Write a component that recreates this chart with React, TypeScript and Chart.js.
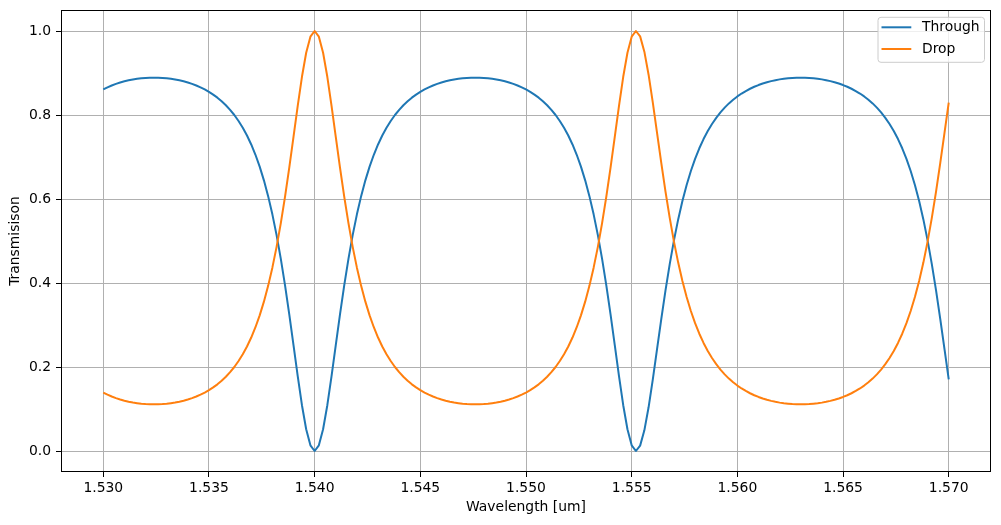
import React, { useEffect, useRef } from "react";
import { Chart, registerables } from "chart.js";

Chart.register(...registerables);

const wavelength = [
  1.5300, 1.5302, 1.5304, 1.5306, 1.5308, 1.5310, 1.5312, 1.5314, 1.5316, 1.5318,
  1.5320, 1.5322, 1.5324, 1.5326, 1.5328, 1.5330, 1.5332, 1.5334, 1.5336, 1.5338,
  1.5340, 1.5342, 1.5344, 1.5346, 1.5348, 1.5350, 1.5352, 1.5354, 1.5356, 1.5358,
  1.5360, 1.5362, 1.5364, 1.5366, 1.5368, 1.5370, 1.5372, 1.5374, 1.5376, 1.5378,
  1.5380, 1.5382, 1.5384, 1.5386, 1.5388, 1.5390, 1.5392, 1.5394, 1.5396, 1.5398,
  1.5400, 1.5402, 1.5404, 1.5406, 1.5408, 1.5410, 1.5412, 1.5414, 1.5416, 1.5418,
  1.5420, 1.5422, 1.5424, 1.5426, 1.5428, 1.5430, 1.5432, 1.5434, 1.5436, 1.5438,
  1.5440, 1.5442, 1.5444, 1.5446, 1.5448, 1.5450, 1.5452, 1.5454, 1.5456, 1.5458,
  1.5460, 1.5462, 1.5464, 1.5466, 1.5468, 1.5470, 1.5472, 1.5474, 1.5476, 1.5478,
  1.5480, 1.5482, 1.5484, 1.5486, 1.5488, 1.5490, 1.5492, 1.5494, 1.5496, 1.5498,
  1.5500, 1.5502, 1.5504, 1.5506, 1.5508, 1.5510, 1.5512, 1.5514, 1.5516, 1.5518,
  1.5520, 1.5522, 1.5524, 1.5526, 1.5528, 1.5530, 1.5532, 1.5534, 1.5536, 1.5538,
  1.5540, 1.5542, 1.5544, 1.5546, 1.5548, 1.5550, 1.5552, 1.5554, 1.5556, 1.5558,
  1.5560, 1.5562, 1.5564, 1.5566, 1.5568, 1.5570, 1.5572, 1.5574, 1.5576, 1.5578,
  1.5580, 1.5582, 1.5584, 1.5586, 1.5588, 1.5590, 1.5592, 1.5594, 1.5596, 1.5598,
  1.5600, 1.5602, 1.5604, 1.5606, 1.5608, 1.5610, 1.5612, 1.5614, 1.5616, 1.5618,
  1.5620, 1.5622, 1.5624, 1.5626, 1.5628, 1.5630, 1.5632, 1.5634, 1.5636, 1.5638,
  1.5640, 1.5642, 1.5644, 1.5646, 1.5648, 1.5650, 1.5652, 1.5654, 1.5656, 1.5658,
  1.5660, 1.5662, 1.5664, 1.5666, 1.5668, 1.5670, 1.5672, 1.5674, 1.5676, 1.5678,
  1.5680, 1.5682, 1.5684, 1.5686, 1.5688, 1.5690, 1.5692, 1.5694, 1.5696, 1.5698,
  1.5700,
];

const through = [
  0.8609, 0.8659, 0.8703, 0.8741, 0.8774, 0.8802, 0.8826, 0.8846, 0.8861, 0.8874,
  0.8882, 0.8887, 0.8889, 0.8887, 0.8882, 0.8874, 0.8861, 0.8846, 0.8826, 0.8802,
  0.8774, 0.8741, 0.8703, 0.8659, 0.8609, 0.8552, 0.8486, 0.8413, 0.8328, 0.8233,
  0.8123, 0.8000, 0.7858, 0.7696, 0.7511, 0.7298, 0.7053, 0.6770, 0.6444, 0.6068,
  0.5635, 0.5139, 0.4575, 0.3944, 0.3253, 0.2520, 0.1781, 0.1090, 0.0517, 0.0135,
  0.0000, 0.0135, 0.0517, 0.1090, 0.1781, 0.2520, 0.3253, 0.3944, 0.4575, 0.5139,
  0.5635, 0.6068, 0.6444, 0.6770, 0.7053, 0.7298, 0.7511, 0.7696, 0.7858, 0.8000,
  0.8123, 0.8233, 0.8328, 0.8413, 0.8486, 0.8552, 0.8609, 0.8659, 0.8703, 0.8741,
  0.8774, 0.8802, 0.8826, 0.8846, 0.8861, 0.8874, 0.8882, 0.8887, 0.8889, 0.8887,
  0.8882, 0.8874, 0.8861, 0.8846, 0.8826, 0.8802, 0.8774, 0.8741, 0.8703, 0.8659,
  0.8609, 0.8552, 0.8486, 0.8413, 0.8328, 0.8233, 0.8123, 0.8000, 0.7858, 0.7696,
  0.7511, 0.7298, 0.7053, 0.6770, 0.6444, 0.6068, 0.5635, 0.5139, 0.4575, 0.3944,
  0.3253, 0.2520, 0.1781, 0.1090, 0.0517, 0.0135, 0.0000, 0.0128, 0.0492, 0.1041,
  0.1707, 0.2424, 0.3142, 0.3824, 0.4451, 0.5015, 0.5514, 0.5952, 0.6334, 0.6667,
  0.6956, 0.7208, 0.7427, 0.7619, 0.7786, 0.7932, 0.8062, 0.8176, 0.8276, 0.8364,
  0.8442, 0.8511, 0.8571, 0.8625, 0.8672, 0.8713, 0.8749, 0.8780, 0.8807, 0.8829,
  0.8848, 0.8863, 0.8874, 0.8883, 0.8887, 0.8889, 0.8887, 0.8883, 0.8874, 0.8863,
  0.8848, 0.8829, 0.8807, 0.8780, 0.8749, 0.8713, 0.8672, 0.8625, 0.8571, 0.8511,
  0.8442, 0.8364, 0.8276, 0.8176, 0.8062, 0.7932, 0.7786, 0.7619, 0.7427, 0.7208,
  0.6956, 0.6667, 0.6334, 0.5952, 0.5514, 0.5015, 0.4451, 0.3824, 0.3142, 0.2424,
  0.1707,
];

const drop = [
  0.1391, 0.1341, 0.1297, 0.1259, 0.1226, 0.1198, 0.1174, 0.1154, 0.1139, 0.1126,
  0.1118, 0.1113, 0.1111, 0.1113, 0.1118, 0.1126, 0.1139, 0.1154, 0.1174, 0.1198,
  0.1226, 0.1259, 0.1297, 0.1341, 0.1391, 0.1448, 0.1514, 0.1587, 0.1672, 0.1767,
  0.1877, 0.2000, 0.2142, 0.2304, 0.2489, 0.2702, 0.2947, 0.3230, 0.3556, 0.3932,
  0.4365, 0.4861, 0.5425, 0.6056, 0.6747, 0.7480, 0.8219, 0.8910, 0.9483, 0.9865,
  1.0000, 0.9865, 0.9483, 0.8910, 0.8219, 0.7480, 0.6747, 0.6056, 0.5425, 0.4861,
  0.4365, 0.3932, 0.3556, 0.3230, 0.2947, 0.2702, 0.2489, 0.2304, 0.2142, 0.2000,
  0.1877, 0.1767, 0.1672, 0.1587, 0.1514, 0.1448, 0.1391, 0.1341, 0.1297, 0.1259,
  0.1226, 0.1198, 0.1174, 0.1154, 0.1139, 0.1126, 0.1118, 0.1113, 0.1111, 0.1113,
  0.1118, 0.1126, 0.1139, 0.1154, 0.1174, 0.1198, 0.1226, 0.1259, 0.1297, 0.1341,
  0.1391, 0.1448, 0.1514, 0.1587, 0.1672, 0.1767, 0.1877, 0.2000, 0.2142, 0.2304,
  0.2489, 0.2702, 0.2947, 0.3230, 0.3556, 0.3932, 0.4365, 0.4861, 0.5425, 0.6056,
  0.6747, 0.7480, 0.8219, 0.8910, 0.9483, 0.9865, 1.0000, 0.9872, 0.9508, 0.8959,
  0.8293, 0.7576, 0.6858, 0.6176, 0.5549, 0.4985, 0.4486, 0.4048, 0.3666, 0.3333,
  0.3044, 0.2792, 0.2573, 0.2381, 0.2214, 0.2068, 0.1938, 0.1824, 0.1724, 0.1636,
  0.1558, 0.1489, 0.1429, 0.1375, 0.1328, 0.1287, 0.1251, 0.1220, 0.1193, 0.1171,
  0.1152, 0.1137, 0.1126, 0.1117, 0.1113, 0.1111, 0.1113, 0.1117, 0.1126, 0.1137,
  0.1152, 0.1171, 0.1193, 0.1220, 0.1251, 0.1287, 0.1328, 0.1375, 0.1429, 0.1489,
  0.1558, 0.1636, 0.1724, 0.1824, 0.1938, 0.2068, 0.2214, 0.2381, 0.2573, 0.2792,
  0.3044, 0.3333, 0.3666, 0.4048, 0.4486, 0.4985, 0.5549, 0.6176, 0.6858, 0.7576,
  0.8293,
];

const xTicks = [1.530, 1.535, 1.540, 1.545, 1.550, 1.555, 1.560, 1.565, 1.570];
const yTicks = [0.0, 0.2, 0.4, 0.6, 0.8, 1.0];
const seriesNames = ["Through", "Drop"];
const seriesColors = ["#1f77b4", "#ff7f0e"];
const xTitle = "Wavelength [um]";
const yTitle = "Transmisison";

const FAMILY = "'DejaVu Sans', 'Liberation Sans', sans-serif";
const FSIZE = 13.9;

export default function App() {
  const ref = useRef<HTMLCanvasElement | null>(null);

  useEffect(() => {
    if (!ref.current) return;

    const framePlugin = {
      id: "frameAndLegend",
      afterDraw(chart: any) {
        const { ctx, chartArea } = chart;
        const l = Math.round(chartArea.left) + 0.5;
        const t = Math.round(chartArea.top) + 0.5;
        const r = Math.round(chartArea.right) - 0.5;
        const b = Math.round(chartArea.bottom) - 0.5;
        ctx.save();
        ctx.strokeStyle = "#000";
        ctx.lineWidth = 1;
        ctx.strokeRect(l, t, r - l, b - t);

        // legend
        const bw = 106.5;
        const bh = 45;
        const bx = chartArea.right - 6.5 - bw;
        const by = chartArea.top + 7.3;
        ctx.beginPath();
        (ctx as any).roundRect(bx, by, bw, bh, 3);
        ctx.fillStyle = "rgba(255,255,255,0.8)";
        ctx.fill();
        ctx.strokeStyle = "#cccccc";
        ctx.lineWidth = 1;
        ctx.stroke();

        ctx.font = `${FSIZE}px ${FAMILY}`;
        ctx.textBaseline = "middle";
        ctx.textAlign = "left";
        seriesNames.forEach((name, i) => {
          const y = by + 10 + i * 21.7;
          ctx.beginPath();
          ctx.strokeStyle = seriesColors[i];
          ctx.lineWidth = 2;
          ctx.moveTo(bx + 3.5, y);
          ctx.lineTo(bx + 33.3, y);
          ctx.stroke();
          ctx.fillStyle = "#000";
          ctx.fillText(name, bx + 44, y + 0.5);
        });
        ctx.restore();
      },
    };

    const chart = new Chart(ref.current, {
      type: "line",
      data: {
        datasets: [
          {
            label: seriesNames[0],
            data: wavelength.map((x, i) => ({ x, y: through[i] })),
            borderColor: seriesColors[0],
            backgroundColor: seriesColors[0],
            borderWidth: 2,
            borderJoinStyle: "round",
            pointRadius: 0,
            tension: 0,
            fill: false,
            order: 1,
          },
          {
            label: seriesNames[1],
            data: wavelength.map((x, i) => ({ x, y: drop[i] })),
            borderColor: seriesColors[1],
            backgroundColor: seriesColors[1],
            borderWidth: 2,
            borderJoinStyle: "round",
            pointRadius: 0,
            tension: 0,
            fill: false,
            order: 0,
          },
        ],
      },
      options: {
        responsive: false,
        animation: false,
        devicePixelRatio: 1,
        layout: { padding: { top: 10, right: 10, left: 0, bottom: 0 } },
        plugins: {
          legend: { display: false },
          tooltip: { enabled: false },
        },
        scales: {
          x: {
            type: "linear",
            min: 1.528,
            max: 1.572,
            afterBuildTicks: (s: any) => {
              s.ticks = xTicks.map((v) => ({ value: v }));
            },
            afterFit: (s: any) => {
              s.height = 53;
              s.paddingLeft = 0;
              s.paddingRight = 0;
            },
            ticks: {
              callback: (v: any) => Number(v).toFixed(3),
              font: { family: FAMILY, size: FSIZE },
              color: "#000",
              padding: 3,
              maxRotation: 0,
              autoSkip: false,
              includeBounds: false,
            },
            grid: {
              color: "#b0b0b0",
              lineWidth: 1,
              tickColor: "#000",
              tickLength: 5,
              tickWidth: 1,
            },
            border: { display: false },
            title: {
              display: true,
              text: xTitle,
              color: "#000",
              font: { family: FAMILY, size: FSIZE },
              padding: { top: 0, bottom: 9 },
            },
          },
          y: {
            type: "linear",
            min: -0.05,
            max: 1.05,
            afterBuildTicks: (s: any) => {
              s.ticks = yTicks.map((v) => ({ value: v }));
            },
            afterFit: (s: any) => {
              s.width = 61;
              s.paddingTop = 0;
              s.paddingBottom = 0;
            },
            ticks: {
              callback: (v: any) => Number(v).toFixed(1),
              font: { family: FAMILY, size: FSIZE },
              color: "#000",
              padding: 5,
              autoSkip: false,
              includeBounds: false,
            },
            grid: {
              color: "#b0b0b0",
              lineWidth: 1,
              tickColor: "#000",
              tickLength: 5,
              tickWidth: 1,
            },
            border: { display: false },
            title: {
              display: true,
              text: yTitle,
              color: "#000",
              font: { family: FAMILY, size: FSIZE },
              padding: { top: 7, bottom: 0 },
            },
          },
        },
      },
      plugins: [framePlugin],
    } as any);

    return () => chart.destroy();
  }, []);

  return (
    <div
      style={{
        position: "absolute",
        left: 0,
        top: 0,
        width: 1001,
        height: 525,
        background: "#ffffff",
      }}
    >
      <canvas
        ref={ref}
        width={1001}
        height={525}
        style={{ display: "block", width: 1001, height: 525 }}
      />
    </div>
  );
}
